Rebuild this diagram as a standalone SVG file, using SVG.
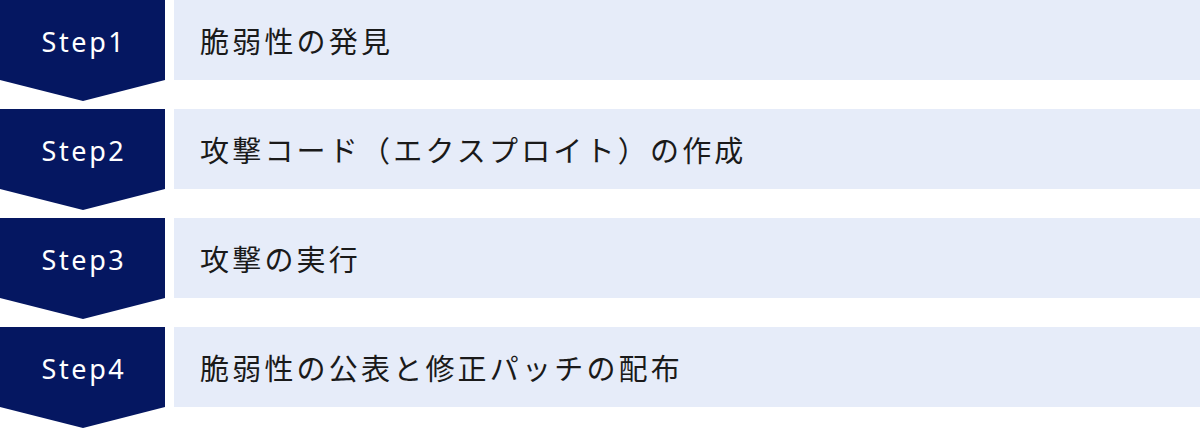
<svg xmlns="http://www.w3.org/2000/svg" width="1200" height="429" viewBox="0 0 1200 429">
<style>
.arrow{fill:#051761}
.bar{fill:#E6ECF9}
.step{font-family:"Noto Sans","Liberation Sans",sans-serif;font-size:27px;fill:#FFFFFF;letter-spacing:2.6px;text-anchor:middle;dominant-baseline:central}
.label{font-family:"Noto Sans CJK JP","Noto Sans",sans-serif;font-size:29px;fill:#1A1A1A;letter-spacing:3.2px;dominant-baseline:central}
</style>
<rect width="1200" height="429" fill="#FFFFFF"/>
<g id="step1">
<path class="arrow" d="M0 0H165V80L83 101L0 80Z"/>
<rect class="bar" x="174" y="0" width="1026" height="80"/>
<text class="step" x="84" y="41">Step1</text>
<text class="label" x="200" y="40">脆弱性の発見</text>
</g>
<g id="step2">
<path class="arrow" d="M0 109H165V189L83 210L0 189Z"/>
<rect class="bar" x="174" y="109" width="1026" height="80"/>
<text class="step" x="84" y="150">Step2</text>
<text class="label" x="200" y="149">攻撃コード（エクスプロイト）の作成</text>
</g>
<g id="step3">
<path class="arrow" d="M0 218H165V298L83 319L0 298Z"/>
<rect class="bar" x="174" y="218" width="1026" height="80"/>
<text class="step" x="84" y="259">Step3</text>
<text class="label" x="200" y="258">攻撃の実行</text>
</g>
<g id="step4">
<path class="arrow" d="M0 327H165V407L83 428L0 407Z"/>
<rect class="bar" x="174" y="327" width="1026" height="80"/>
<text class="step" x="84" y="368">Step4</text>
<text class="label" x="200" y="367">脆弱性の公表と修正パッチの配布</text>
</g>
<g id="connectors"></g>
</svg>
